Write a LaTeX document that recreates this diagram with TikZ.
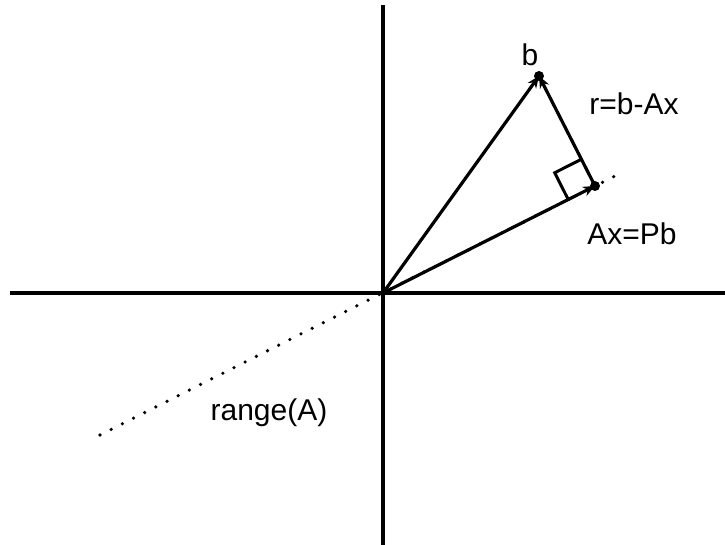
\documentclass[tikz,border=0pt]{standalone}
\usepackage{fontspec}
\setmainfont{Liberation Sans}
\usetikzlibrary{arrows.meta,calc}
\begin{document}
\begin{tikzpicture}[x=1pt,y=-1pt,
  axis/.style={line width=3.2pt},
  vec/.style={line width=3.2pt,-{Stealth[length=12pt,width=10pt]}},
  dotline/.style={line width=3.6pt,line cap=round,dash pattern=on 0pt off 12.5pt},
  lbl/.style={font=\fontsize{30}{34}\selectfont,inner sep=0pt},
  pt/.style={circle,fill=black,inner sep=0pt,minimum size=10pt}]
\useasboundingbox (0,0) rectangle (725,545);
\coordinate (O) at (383,293);
\coordinate (B) at (539,76);
\coordinate (P) at (595,186);
\coordinate (T) at (383,5);
\coordinate (Bt) at (383,545);
\coordinate (L) at (10,293);
\coordinate (R) at (725,293);
\coordinate (D1) at (100,435);
\coordinate (D2) at (623,172);
\draw[axis] (T) -- (Bt);
\draw[axis] (L) -- (R);
\draw[dotline] (D1) -- (D2);
% right angle mark
\draw[line width=3pt] ($(P)!30pt!(O)$) -- ($(P)!30pt!(O)!30pt!90:(P)$) -- ($(P)!30pt!(B)$);
\draw[vec] (O) -- (B);
\draw[vec] (O) -- (P);
\draw[vec] (P) -- (B);
\node[pt] at (B) {};
\node[pt] at (P) {};
\node[lbl] (lb) at (530,55) {b};
\node[lbl] (lr) at (634,104) {r=b-Ax};
\node[lbl] (lp) at (632,234) {Ax=Pb};
\node[lbl] (lrange) at (269,413) {range(A)};
\end{tikzpicture}
\end{document}
